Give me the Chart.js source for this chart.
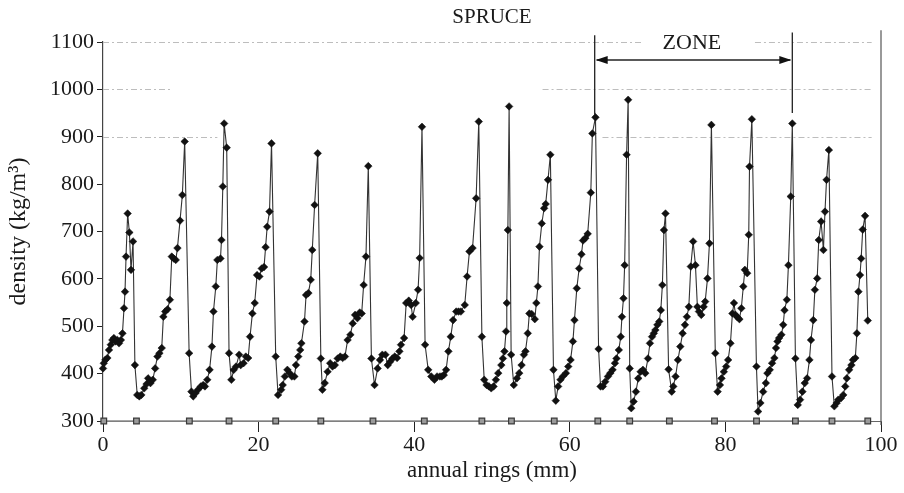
<!DOCTYPE html>
<html>
<head>
<meta charset="utf-8">
<script src="https://cdn.jsdelivr.net/npm/chart.js@4.4.1/dist/chart.umd.min.js"></script>
<style>
  html, body { margin: 0; padding: 0; background: #fff; }
  #wrap { width: 904px; height: 493px; position: relative; }
</style>
</head>
<body>
<div id="wrap"><canvas id="densityChart"></canvas></div>
<script>
// annual ring position (mm) and measured density (kg/m3)
const ringPos = [
  0.0, 0.1, 0.3, 0.56, 0.77, 1.0, 1.2, 1.4, 1.6, 1.85, 2.06, 2.3, 2.5, 2.7, 2.83, 2.96, 3.17, 3.39, 3.6, 3.86,
  4.1, 4.4, 4.67, 4.93, 5.3, 5.6, 5.8, 6.1, 6.4, 6.7, 7.0, 7.25, 7.55, 7.76, 8.0, 8.3, 8.6, 8.84, 9.1, 9.35,
  9.57, 9.9, 10.2, 10.5, 11.07, 11.37, 11.6, 11.9, 12.2, 12.57, 12.87, 13.1, 13.4, 13.7, 14.0, 14.2, 14.5, 14.7, 15.1, 15.23,
  15.4, 15.57, 15.9, 16.2, 16.5, 16.8, 17.1, 17.5, 17.7, 18.06, 18.36, 18.66, 18.9, 19.2, 19.5, 19.8, 20.1, 20.4, 20.7, 20.9,
  21.1, 21.4, 21.66, 22.2, 22.5, 22.9, 23.1, 23.38, 23.7, 24.0, 24.27, 24.6, 24.8, 25.1, 25.35, 25.5, 25.9, 26.1, 26.4, 26.7,
  26.9, 27.2, 27.6, 28.0, 28.2, 28.5, 28.87, 29.2, 29.5, 29.8, 30.16, 30.5, 30.8, 31.1, 31.44, 31.8, 32.1, 32.4, 32.7, 33.0,
  33.25, 33.5, 33.8, 34.1, 34.5, 34.9, 35.3, 35.6, 35.9, 36.3, 36.6, 36.9, 37.2, 37.5, 37.8, 38.1, 38.3, 38.7, 38.97, 39.3,
  39.6, 39.8, 40.2, 40.5, 40.7, 41.0, 41.4, 41.8, 42.2, 42.6, 42.94, 43.3, 43.55, 43.8, 44.1, 44.4, 44.7, 45.0, 45.4, 45.7,
  46.0, 46.5, 46.8, 47.1, 47.5, 47.96, 48.3, 48.7, 49.0, 49.3, 49.6, 49.9, 50.2, 50.5, 50.8, 51.2, 51.4, 51.6, 51.8, 51.9,
  52.04, 52.2, 52.46, 52.8, 53.2, 53.5, 53.8, 54.1, 54.3, 54.6, 54.8, 55.1, 55.5, 55.7, 55.9, 56.1, 56.4, 56.7, 56.9, 57.2,
  57.5, 57.9, 58.2, 58.5, 58.8, 59.1, 59.5, 59.8, 60.1, 60.4, 60.6, 60.9, 61.2, 61.5, 61.7, 62.0, 62.3, 62.7, 62.9, 63.3,
  63.7, 63.95, 64.25, 64.55, 64.9, 65.2, 65.5, 65.8, 66.0, 66.3, 66.55, 66.7, 66.9, 67.05, 67.3, 67.5, 67.7, 67.9, 68.2, 68.5,
  68.8, 69.1, 69.4, 69.7, 70.05, 70.3, 70.57, 70.8, 71.0, 71.26, 71.5, 71.7, 71.9, 72.1, 72.3, 72.7, 73.1, 73.3, 73.6, 73.9,
  74.2, 74.5, 74.8, 75.05, 75.3, 75.55, 75.85, 76.15, 76.4, 76.6, 76.9, 77.2, 77.4, 77.7, 77.95, 78.2, 78.7, 79.0, 79.3, 79.5,
  79.8, 80.1, 80.35, 80.65, 80.9, 81.1, 81.3, 81.55, 81.8, 82.05, 82.3, 82.5, 82.8, 83.0, 83.1, 83.4, 83.99, 84.2, 84.5, 84.85,
  85.2, 85.4, 85.7, 86.0, 86.3, 86.5, 86.7, 86.9, 87.2, 87.43, 87.6, 87.9, 88.1, 88.4, 88.6, 89.0, 89.3, 89.6, 89.9, 90.2,
  90.5, 90.8, 91.0, 91.3, 91.5, 91.8, 92.0, 92.3, 92.6, 92.8, 93.0, 93.3, 93.7, 94.0, 94.3, 94.5, 94.85, 95.15, 95.4, 95.6,
  95.9, 96.2, 96.4, 96.7, 96.9, 97.1, 97.3, 97.45, 97.65, 97.95, 98.3
];
const density = [
  411, 422, 429, 433, 450, 461, 471, 475, 468, 471, 464, 471, 485, 538, 573, 647, 738, 698, 619, 679,
  418, 355, 352, 355, 369, 378, 390, 380, 387, 411, 436, 443, 454, 520, 531, 536, 556, 647, 643, 640,
  665, 723, 777, 890, 443, 362, 352, 359, 366, 373, 376, 373, 387, 408, 457, 531, 584, 640, 643, 682,
  795, 928, 877, 443, 387, 408, 415, 440, 418, 422, 436, 433, 478, 527, 549, 608, 605, 622, 625, 667,
  710, 742, 886, 436, 355, 366, 376, 394, 408, 401, 394, 394, 418, 436, 450, 464, 510, 566, 570, 598,
  661, 756, 865, 432, 366, 380, 404, 422, 415, 418, 432, 436, 433, 436, 471, 482, 506, 524, 517, 529,
  527, 587, 647, 838, 432, 376, 411, 429, 440, 440, 418, 425, 432, 436, 433, 447, 461, 475, 549, 554,
  545, 520, 549, 577, 644, 921, 461, 408, 394, 387, 394, 394, 394, 397, 408, 447, 478, 513, 531, 531,
  531, 545, 605, 658, 665, 770, 932, 478, 387, 376, 373, 369, 373, 387, 401, 418, 432, 447, 489, 549,
  703, 964, 440, 376, 390, 401, 418, 440, 447, 485, 527, 526, 515, 549, 584, 668, 717, 749, 758, 809,
  862, 408, 343, 373, 387, 394, 401, 415, 429, 468, 513, 580, 622, 652, 681, 686, 695, 782, 907, 941,
  452, 373, 373, 383, 394, 401, 408, 422, 432, 450, 478, 520, 559, 629, 862, 978, 411, 327, 341, 362,
  390, 404, 408, 401, 432, 464, 478, 485, 492, 503, 510, 534, 587, 703, 738, 409, 362, 373, 394, 429,
  457, 485, 503, 520, 541, 626, 679, 629, 541, 531, 524, 541, 552, 601, 675, 925, 443, 362, 376, 390,
  404, 415, 429, 464, 527, 549, 524, 519, 515, 538, 584, 619, 612, 693, 837, 937, 415, 320, 338, 362,
  380, 401, 408, 422, 433, 454, 468, 475, 482, 503, 534, 556, 629, 774, 928, 432, 334, 345, 362, 380,
  390, 429, 471, 513, 577, 601, 682, 721, 661, 742, 809, 872, 394, 331, 338, 345, 348, 355, 373, 390,
  408, 418, 429, 433, 485, 573, 608, 643, 704, 733, 512
];
// ring boundaries marked on the base line
const boundaryPos = [0.1, 4.3, 11.1, 16.2, 22.2, 28.0, 34.7, 41.3, 48.7, 52.5, 58.0, 63.6, 67.7, 72.8, 78.6, 84.0, 89.0, 93.7, 98.3];
const baseDensity = 300;

// zone marked with the arrow (mm)
const zoneFrom = 63.2;
const zoneTo = 88.6;

const serif = "'Liberation Serif', 'Times New Roman', serif";

// faint dash-dot reference lines, only partly visible in the scan
const refLines = [
  { value: 1100, parts: [[0, 69.2], [83.8, 98.8]] },
  { value: 1000, parts: [[0, 8.8], [56.5, 98.8]] },
  { value: 900, parts: [[0, 14.7], [64.2, 98.8]] }
];

const decorPlugin = {
  id: 'decor',
  beforeDatasetsDraw(chart) {
    const { ctx, scales: { x, y } } = chart;
    ctx.save();
    ctx.strokeStyle = '#bdbdbd';
    ctx.lineWidth = 1;
    ctx.setLineDash([6, 3, 2, 3]);
    refLines.forEach(r => {
      const py = Math.round(y.getPixelForValue(r.value)) + 0.5;
      r.parts.forEach(p => {
        ctx.beginPath();
        ctx.moveTo(x.getPixelForValue(p[0]), py);
        ctx.lineTo(x.getPixelForValue(p[1]), py);
        ctx.stroke();
      });
    });
    ctx.restore();
  },
  afterDatasetsDraw(chart) {
    const { ctx, chartArea, scales: { x, y } } = chart;
    ctx.save();
    // right frame line
    ctx.strokeStyle = '#555';
    ctx.lineWidth = 1.2;
    ctx.beginPath();
    ctx.moveTo(x.getPixelForValue(100), y.getPixelForValue(1125));
    ctx.lineTo(x.getPixelForValue(100), chartArea.bottom + 4);
    ctx.stroke();

    // zone limits
    ctx.strokeStyle = '#222';
    ctx.lineWidth = 1.3;
    const x1 = x.getPixelForValue(zoneFrom);
    const x2 = x.getPixelForValue(zoneTo);
    ctx.beginPath();
    ctx.moveTo(x1, y.getPixelForValue(1114));
    ctx.lineTo(x1, y.getPixelForValue(946));
    ctx.moveTo(x2, y.getPixelForValue(1120));
    ctx.lineTo(x2, y.getPixelForValue(950));
    ctx.stroke();

    // double arrow
    const ay = y.getPixelForValue(1062);
    ctx.lineWidth = 1.3;
    ctx.beginPath();
    ctx.moveTo(x1 + 2, ay);
    ctx.lineTo(x2 - 2, ay);
    ctx.stroke();
    ctx.fillStyle = '#111';
    ctx.beginPath();
    ctx.moveTo(x1 + 1, ay);
    ctx.lineTo(x1 + 13, ay - 4);
    ctx.lineTo(x1 + 13, ay + 4);
    ctx.closePath();
    ctx.fill();
    ctx.beginPath();
    ctx.moveTo(x2 - 1, ay);
    ctx.lineTo(x2 - 13, ay - 4);
    ctx.lineTo(x2 - 13, ay + 4);
    ctx.closePath();
    ctx.fill();

    // labels
    ctx.fillStyle = '#1a1a1a';
    ctx.textAlign = 'center';
    ctx.textBaseline = 'middle';
    ctx.font = '22px ' + serif;
    ctx.fillText('ZONE', x.getPixelForValue(75.7), y.getPixelForValue(1098));
    ctx.font = '21px ' + serif;
    ctx.fillText('SPRUCE', (chartArea.left + chartArea.right) / 2, 17);
    ctx.restore();
  }
};

const ctx = document.getElementById('densityChart').getContext('2d');

new Chart(ctx, {
  type: 'line',
  data: {
    datasets: [
      {
        label: 'density',
        data: ringPos.map((p, i) => ({ x: p, y: density[i] })),
        borderColor: '#333',
        borderWidth: 1.1,
        pointStyle: 'rectRot',
        pointRadius: 3.8,
        pointBackgroundColor: '#111',
        pointBorderColor: '#111',
        pointBorderWidth: 0.5,
        tension: 0,
        order: 1
      },
      {
        label: 'rings',
        data: boundaryPos.map(p => ({ x: p, y: baseDensity })),
        borderColor: '#8a8a8a',
        borderWidth: 1.5,
        pointStyle: 'rect',
        pointRadius: 4,
        pointBackgroundColor: '#9a9a9a',
        pointBorderColor: '#3a3a3a',
        pointBorderWidth: 1.2,
        tension: 0,
        order: 2
      }
    ]
  },
  plugins: [decorPlugin],
  options: {
    responsive: true,
    maintainAspectRatio: false,
    animation: false,
    clip: false,
    layout: { padding: { top: 42, right: 23, left: 0, bottom: 0 } },
    plugins: {
      legend: { display: false },
      tooltip: { enabled: false }
    },
    scales: {
      x: {
        type: 'linear',
        min: 0,
        max: 100,
        afterFit: s => { s.height = 72; },
        ticks: {
          stepSize: 20,
          color: '#1a1a1a',
          padding: 0,
          font: { family: serif, size: 22 },
          callback: v => String(v)
        },
        grid: { drawOnChartArea: false, color: '#222', tickLength: 11 },
        border: { display: true, color: '#666', width: 1 },
        title: {
          display: true,
          text: 'annual rings (mm)',
          color: '#1a1a1a',
          font: { family: serif, size: 23 },
          padding: { top: 0, bottom: 8 }
        }
      },
      y: {
        min: 300,
        max: 1100,
        afterFit: s => { s.width = 103; },
        ticks: {
          stepSize: 100,
          color: '#1a1a1a',
          padding: 3,
          font: { family: serif, size: 22 },
          callback: v => String(v)
        },
        grid: { drawOnChartArea: false, color: '#222', tickLength: 6 },
        border: { display: true, color: '#444', width: 1.2 },
        title: {
          display: true,
          text: 'density (kg/m³)',
          color: '#1a1a1a',
          font: { family: serif, size: 24 },
          padding: { top: 4, bottom: 0 }
        }
      }
    }
  }
});
</script>
</body>
</html>
